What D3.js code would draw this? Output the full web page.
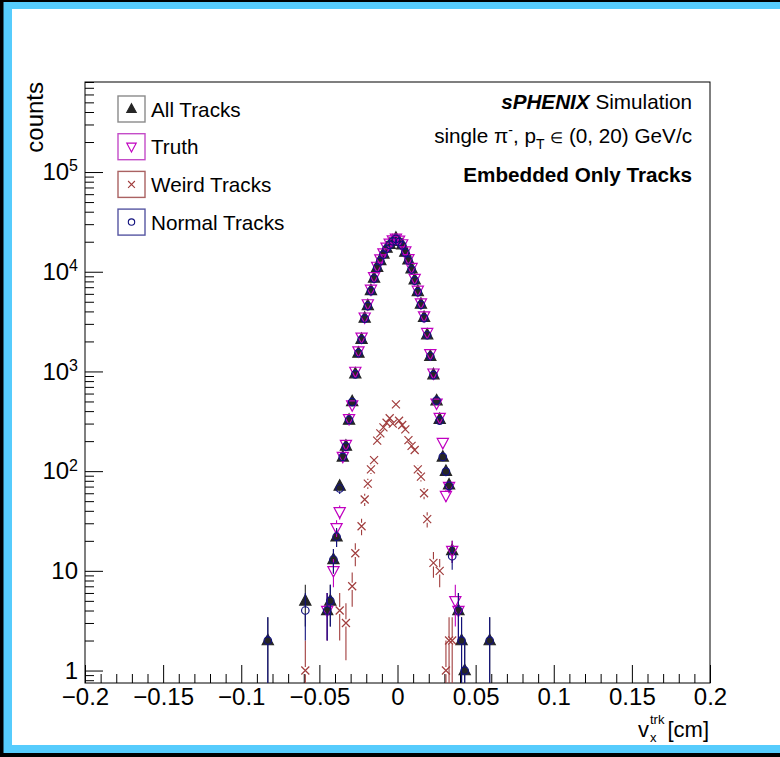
<!DOCTYPE html>
<html>
<head>
<meta charset="utf-8">
<script src="https://cdn.jsdelivr.net/npm/d3@7"></script>
<style>
  html, body { margin: 0; padding: 0; background: #000; }
  svg { display: block; }
  text { font-family: "Liberation Sans", Arial, Helvetica, sans-serif; fill: #000; }
</style>
</head>
<body>
<svg id="chart" width="780" height="757"></svg>
<script>
// bin centres [cm], bin width 0.002
const bins = [-0.083, -0.059, -0.045, -0.043, -0.041, -0.039, -0.037, -0.035, -0.033, -0.031,
  -0.029, -0.027, -0.025, -0.023, -0.021, -0.019, -0.017, -0.015, -0.013, -0.011,
  -0.009, -0.007, -0.005, -0.003, -0.001, 0.001, 0.003, 0.005, 0.007, 0.009,
  0.011, 0.013, 0.015, 0.017, 0.019, 0.021, 0.023, 0.025, 0.027, 0.029,
  0.031, 0.033, 0.035, 0.037, 0.039, 0.041, 0.043, 0.059];

const allTracks = [2, 5, 4, 5, 13, 22, 71, 139, 179, 326,
  500, 950, 1530, 2110, 3440, 4600, 6500, 8650, 11100, 13000,
  15100, 17300, 18900, 20500, 21800, 20200, 18700, 15800, 13200, 10700,
  8300, 6360, 4740, 3490, 2340, 1420, 930, 510, 331, 139,
  100, 73, 16, 0, 4, 2, 1, 2];

const truth = [0, 0, 4, 0, 10, 27, 39, 140, 185, 335,
  460, 1000, 1600, 2200, 3500, 4750, 6650, 8900, 11300, 13400,
  15400, 17600, 19300, 20800, 21600, 20700, 19000, 16100, 13500, 11000,
  8550, 6500, 4850, 3600, 2450, 1500, 960, 479, 345, 193,
  57, 70, 16, 5, 4, 0, 0, 0];

const weird = [0, 1, 0, 0, 0, 0, 4, 0, 3, 0,
  7, 15, 0, 28, 52, 75, 104, 129, 202, 239,
  275, 306, 339, 300, 468, 320, 290, 262, 205, 179,
  163, 104, 88, 60, 33, 0, 12, 0, 10, 0,
  1, 2, 2, 0, 0, 0, 0, 0];

const normal = [2, 4, 4, 5, 13, 22, 67, 139, 176, 326,
  493, 935, 1530, 2082, 3388, 4525, 6396, 8521, 10898, 12761,
  14825, 16994, 18561, 20200, 21332, 19880, 18410, 15538, 12995, 10521,
  8137, 6256, 4652, 3430, 2307, 1420, 918, 510, 321, 139,
  99, 71, 14, 0, 4, 2, 1, 2];

const xTicks = [-0.2, -0.15, -0.1, -0.05, 0, 0.05, 0.1, 0.15, 0.2];
const yTicks = [1, 10, 100, 1e3, 1e4, 1e5];
const legendNames = ["All Tracks", "Truth", "Weird Tracks", "Normal Tracks"];

const svg = d3.select("#chart");
const W = 780, H = 757;
const mLeft = 85, mRight = 710, mTop = 82, mBottom = 683;

// canvas frame: black edge, light blue band, white pad
svg.append("rect").attr("width", W).attr("height", H).attr("fill", "#000");
svg.append("rect").attr("x", 3.5).attr("y", 2).attr("width", W - 3.5).attr("height", 751).attr("fill", "#56ccfd");
svg.append("rect").attr("x", 12).attr("y", 9).attr("width", W - 12).attr("height", 736).attr("fill", "#fff");

const x = d3.scaleLinear().domain([-0.2, 0.2]).range([mLeft, mRight]);
const y = d3.scaleLog().domain([0.75, 8e5]).range([mBottom, mTop]);

svg.append("defs").append("clipPath").attr("id", "plotclip")
  .append("rect").attr("x", mLeft).attr("y", mTop).attr("width", mRight - mLeft).attr("height", mBottom - mTop);

const fmt = v => v === 0 ? "0" : (v < 0 ? "\u2212" : "") + String(Math.abs(v));

// x axis, ticks point inward
const xMinor = d3.range(-20, 21).filter(i => i % 5 !== 0).map(i => i / 100);
svg.append("g").attr("transform", `translate(0,${mBottom})`)
  .call(d3.axisBottom(x).tickValues(xMinor).tickSize(-9).tickFormat(""))
  .call(g => g.select(".domain").remove());
const gx = svg.append("g").attr("transform", `translate(0,${mBottom})`)
  .call(d3.axisBottom(x).tickValues(xTicks).tickSize(-18).tickPadding(5).tickFormat(fmt));
gx.select(".domain").remove();
gx.selectAll("text").attr("font-size", 24).attr("fill", "#000")
  .style("font-family", "'Liberation Sans', Arial, sans-serif");
gx.selectAll("line").attr("stroke", "#000");

// y axis (log)
const yMinor = [];
[-1, 0, 1, 2, 3, 4, 5].forEach(d => {
  for (let k = 2; k <= 9; k++) {
    const v = k * Math.pow(10, d);
    if (v >= 0.75 && v <= 8e5) yMinor.push(v);
  }
});
svg.append("g").attr("transform", `translate(${mLeft},0)`)
  .call(d3.axisLeft(y).tickValues(yMinor).tickSize(-9).tickFormat(""))
  .call(g => g.select(".domain").remove());
const gy = svg.append("g").attr("transform", `translate(${mLeft},0)`)
  .call(d3.axisLeft(y).tickValues(yTicks).tickSize(-18).tickPadding(7).tickFormat(""));
gy.select(".domain").remove();
gy.selectAll("line").attr("stroke", "#000");
gy.selectAll(".tick text").each(function(d) {
  const t = d3.select(this).attr("font-size", 24).attr("fill", "#000")
    .style("font-family", "'Liberation Sans', Arial, sans-serif");
  const e = Math.round(Math.log10(d));
  if (e <= 1) {
    t.text(String(d));
  } else {
    t.append("tspan").text("10");
    t.append("tspan").attr("font-size", 16).attr("dy", "-0.55em").text(e);
  }
});

// frame
svg.append("rect").attr("x", mLeft).attr("y", mTop).attr("width", mRight - mLeft).attr("height", mBottom - mTop)
  .attr("fill", "none").attr("stroke", "#000").attr("stroke-width", 1);

// marker shapes
const shapes = {
  triUp: s => `M0,${-s * 0.62}L${s * 0.56},${s * 0.42}L${-s * 0.56},${s * 0.42}Z`,
  triDown: s => `M0,${s * 0.62}L${s * 0.56},${-s * 0.42}L${-s * 0.56},${-s * 0.42}Z`,
  cross: s => `M${-s / 2},${-s / 2}L${s / 2},${s / 2}M${s / 2},${-s / 2}L${-s / 2},${s / 2}`,
  circle: s => `M${s / 2},0A${s / 2},${s / 2} 0 1,1 ${-s / 2},0A${s / 2},${s / 2} 0 1,1 ${s / 2},0Z`
};

const series = [
  { name: legendNames[0], values: allTracks, shape: "triUp", size: 10, color: "#262626", fill: "#262626", box: "#8a8a8a" },
  { name: legendNames[1], values: truth, shape: "triDown", size: 10, color: "#c000c0", fill: "none", box: "#c44cc8" },
  { name: legendNames[2], values: weird, shape: "cross", size: 8, color: "#a03c3c", fill: "none", box: "#aa6262" },
  { name: legendNames[3], values: normal, shape: "circle", size: 7.5, color: "#12127e", fill: "none", box: "#5656a2" }
];

const plot = svg.append("g").attr("clip-path", "url(#plotclip)");

series.forEach(s => {
  const pts = bins.map((b, i) => ({ b, n: s.values[i] })).filter(p => p.n > 0);
  const g = plot.append("g");
  // sqrt(N) error bars, gap at the marker
  const gap = s.size * 0.45;
  pts.forEach(p => {
    const cy = y(p.n), cx = x(p.b);
    const hi = y(p.n + Math.sqrt(p.n));
    const lo = p.n - Math.sqrt(p.n) > 0.75 ? y(p.n - Math.sqrt(p.n)) : mBottom + 2;
    if (cy - gap > hi) g.append("line").attr("x1", cx).attr("x2", cx).attr("y1", hi).attr("y2", cy - gap)
      .attr("stroke", s.color).attr("stroke-width", 1.1);
    if (lo > cy + gap) g.append("line").attr("x1", cx).attr("x2", cx).attr("y1", cy + gap).attr("y2", lo)
      .attr("stroke", s.color).attr("stroke-width", 1.1);
  });
  g.selectAll("path").data(pts).join("path")
    .attr("transform", p => `translate(${x(p.b)},${y(p.n)})`)
    .attr("d", shapes[s.shape](s.size))
    .attr("fill", s.fill)
    .attr("stroke", s.color)
    .attr("stroke-width", 1.2);
});

// legend
const leg = svg.append("g");
series.forEach((s, i) => {
  const cy = 109 + i * 37.7;
  leg.append("rect").attr("x", 118).attr("y", cy - 13).attr("width", 27).attr("height", 26)
    .attr("fill", "#fff").attr("stroke", s.box).attr("stroke-width", 1.4);
  leg.append("path").attr("transform", `translate(131.5,${cy})`)
    .attr("d", shapes[s.shape](s.size * 0.85))
    .attr("fill", s.fill).attr("stroke", s.color).attr("stroke-width", 1.1);
  leg.append("text").attr("x", 151).attr("y", cy + 7.5).attr("font-size", 20.7).text(s.name);
});

// labels on the top right
const t1 = svg.append("text").attr("x", 692).attr("y", 109).attr("text-anchor", "end").attr("font-size", 20.7);
t1.append("tspan").attr("font-weight", "bold").attr("font-style", "italic").text("sPHENIX");
t1.append("tspan").text(" Simulation");

const t2 = svg.append("text").attr("x", 692).attr("y", 143).attr("text-anchor", "end").attr("font-size", 20.7);
t2.append("tspan").text("single \u03c0");
t2.append("tspan").attr("font-size", 14).attr("dy", -8).text("-");
t2.append("tspan").attr("dy", 8).text(", p");
t2.append("tspan").attr("font-size", 14).attr("dy", 6).text("T");
t2.append("tspan").attr("dy", -6).text(" ");
t2.append("tspan").attr("font-size", 15).text("\u2208");
t2.append("tspan").text(" (0, 20) GeV/c");

svg.append("text").attr("x", 692).attr("y", 182).attr("text-anchor", "end").attr("font-size", 20.7)
  .attr("font-weight", "bold").text("Embedded Only Tracks");

// axis titles
const xt = svg.append("g");
xt.append("text").attr("x", 638).attr("y", 737).attr("font-size", 22).text("v");
xt.append("text").attr("x", 650).attr("y", 742).attr("font-size", 13).text("x");
xt.append("text").attr("x", 650).attr("y", 724).attr("font-size", 13).text("trk");
xt.append("text").attr("x", 709).attr("y", 737).attr("text-anchor", "end").attr("font-size", 22).text("[cm]");

svg.append("text").attr("transform", `translate(43,${mTop}) rotate(-90)`)
  .attr("text-anchor", "end").attr("font-size", 24).text("counts");
</script>
</body>
</html>
